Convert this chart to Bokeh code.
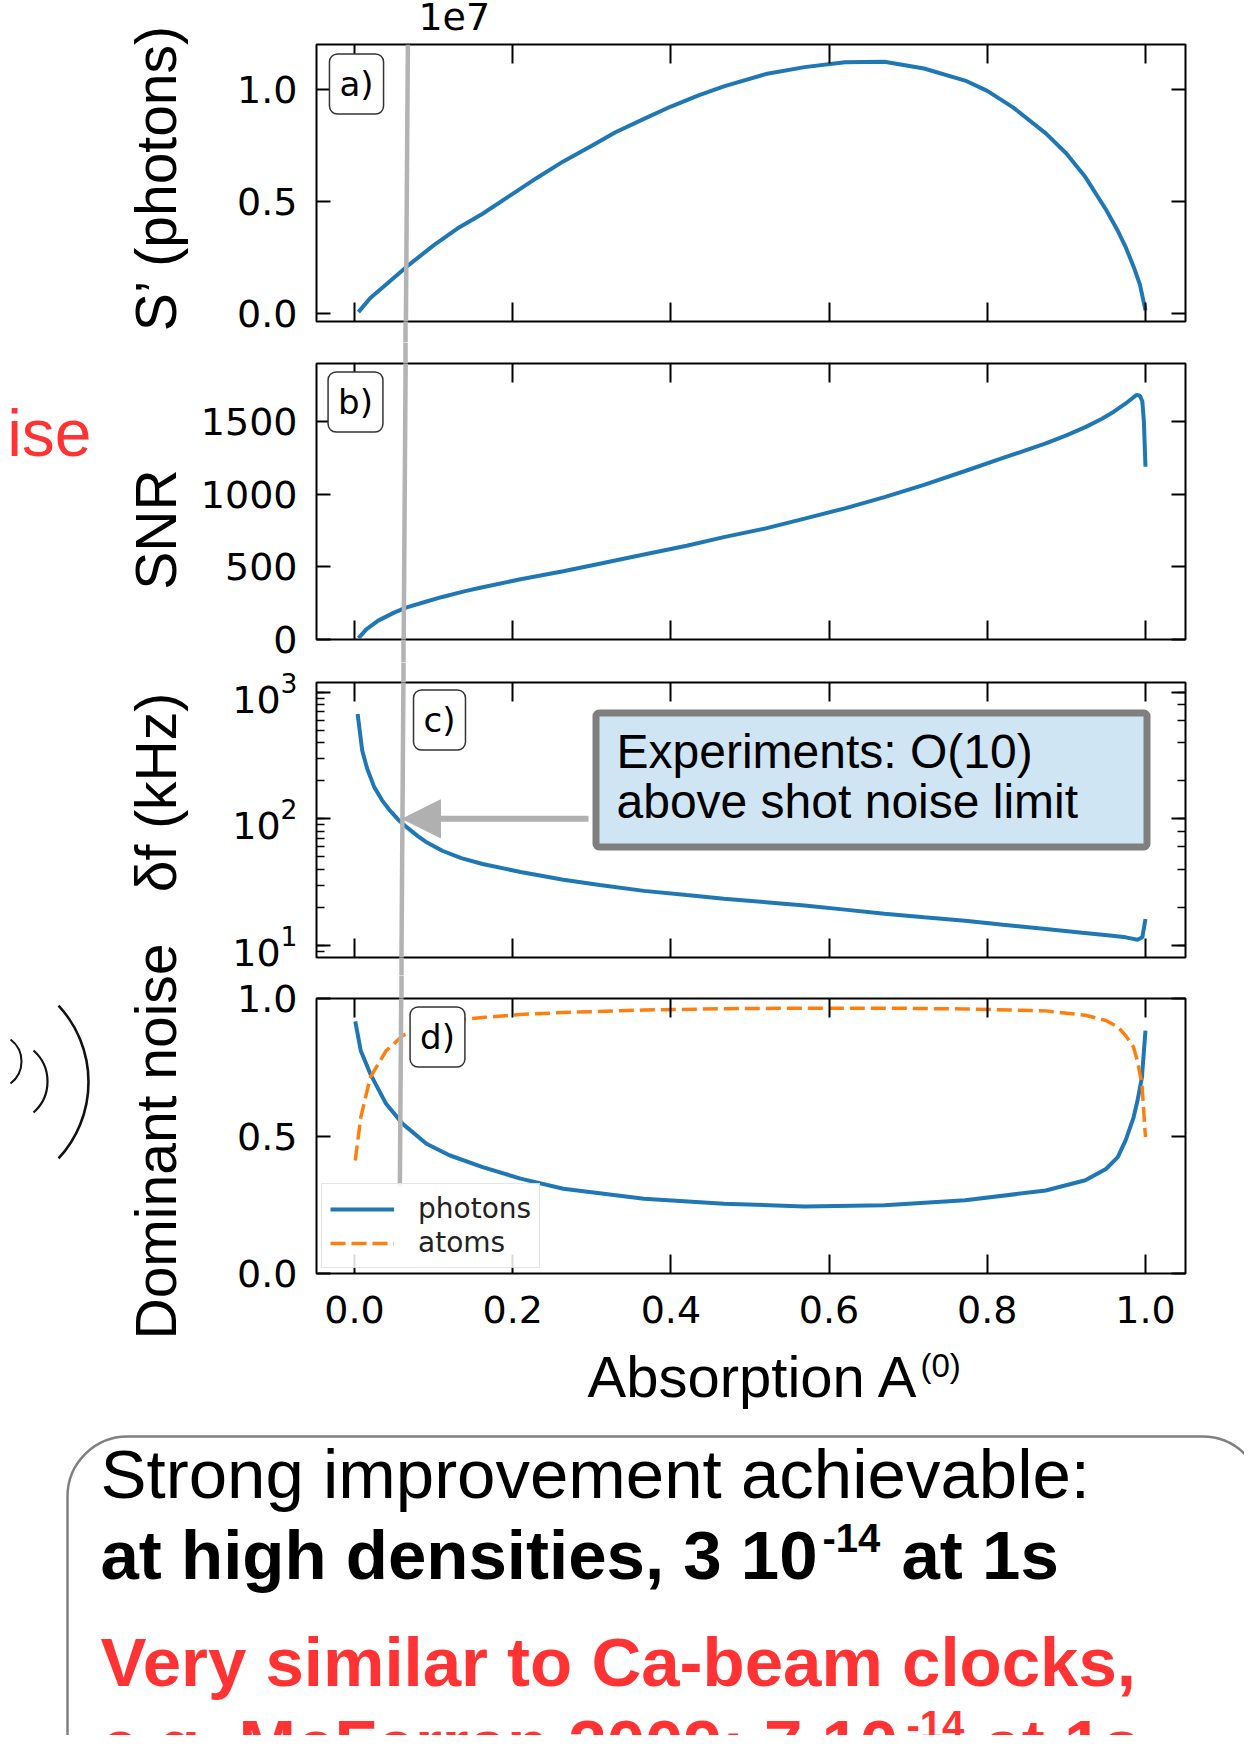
import math
from bokeh.plotting import figure
from bokeh.models import (Range1d, FixedTicker, LinearAxis, LogAxis, Label, Arrow, NormalHead,
                          BoxAnnotation, PrintfTickFormatter, CustomJSTickFormatter, LogTicker)
from bokeh.layouts import column, row
from bokeh.embed import file_html
from bokeh.resources import INLINE

# ---------------- data ----------------
A_S = [0.005, 0.02, 0.04, 0.066, 0.10, 0.13, 0.162, 0.20, 0.23, 0.264, 0.30, 0.33, 0.366, 0.40,
       0.435, 0.467, 0.52, 0.569, 0.62, 0.67, 0.72, 0.772, 0.80, 0.833, 0.874, 0.90, 0.924,
       0.95, 0.965, 0.975, 0.985, 0.993, 1.0]
S_PHOTONS = [0.07e6, 0.70e6, 1.30e6, 2.10e6, 3.05e6, 3.80e6, 4.46e6, 5.35e6, 6.05e6, 6.80e6,
             7.50e6, 8.10e6, 8.70e6, 9.25e6, 9.75e6, 10.15e6, 10.70e6, 11.01e6, 11.23e6,
             11.25e6, 10.95e6, 10.41e6, 9.95e6, 9.20e6, 8.05e6, 7.15e6, 6.10e6, 4.65e6,
             3.70e6, 2.97e6, 2.10e6, 1.30e6, 0.15e6]

A_SNR = [0.005, 0.015, 0.03, 0.05, 0.066, 0.09, 0.111, 0.14, 0.162, 0.21, 0.264, 0.31, 0.366,
         0.42, 0.467, 0.52, 0.569, 0.62, 0.67, 0.72, 0.772, 0.82, 0.874, 0.90, 0.924, 0.945,
         0.96, 0.975, 0.985, 0.989, 0.993, 0.996, 0.998, 1.0]
SNR = [10, 70, 130, 185, 221, 260, 293, 333, 360, 415, 470, 522, 585, 645, 705, 765, 832, 903,
       980, 1065, 1160, 1250, 1350, 1405, 1462, 1520, 1568, 1625, 1668, 1684, 1678, 1640,
       1500, 1189]

A_DF = [0.004, 0.0098, 0.016, 0.025, 0.035, 0.045, 0.055, 0.066, 0.08, 0.09, 0.111, 0.135,
        0.162, 0.21, 0.264, 0.31, 0.366, 0.42, 0.467, 0.52, 0.569, 0.62, 0.67, 0.72, 0.772,
        0.82, 0.874, 0.92, 0.955, 0.975, 0.99, 0.996, 1.0]
DELTA_F = [674, 346, 250, 178, 140, 116, 99, 86, 73, 66, 56, 49, 44, 38, 33, 30, 27, 25, 23.4,
           22, 20.7, 19.2, 17.8, 16.7, 15.7, 14.6, 13.5, 12.6, 12.0, 11.6, 11.1, 11.6, 16.2]

A_DN = [0.001, 0.008, 0.02, 0.04, 0.061, 0.091, 0.12, 0.162, 0.21, 0.264, 0.366, 0.467,
        0.569, 0.67, 0.772, 0.874, 0.924, 0.95, 0.965, 0.975, 0.985, 0.99, 0.9955, 1.0]
PHOTONS = [0.917, 0.81, 0.726, 0.617, 0.544, 0.472, 0.43, 0.387, 0.345, 0.308, 0.272, 0.254,
           0.244, 0.248, 0.266, 0.302, 0.339, 0.38, 0.423, 0.485, 0.568, 0.63, 0.713, 0.883]
ATOMS = [0.411, 0.568, 0.713, 0.81, 0.865, 0.90, 0.92, 0.931, 0.942, 0.949, 0.958, 0.963,
         0.965, 0.965, 0.962, 0.955, 0.939, 0.92, 0.897, 0.865, 0.823, 0.77, 0.689, 0.496]

X_TICKS = [0.0, 0.2, 0.4, 0.6, 0.8, 1.0]
S_TICKS = [0.0, 0.5e7, 1.0e7]
SNR_TICKS = [0, 500, 1000, 1500]
DN_TICKS = [0.0, 0.5, 1.0]
MARKED_A = 0.063   # position of the grey marker line

# ---------------- layout constants (page pixels) ----------------
PAGE_W, PAGE_H = 1244, 1735
FL, FR = 316, 1185
X0, X1 = -0.048, 1.0506
LEFT_X1 = 195
PANEL_W = PAGE_W - LEFT_X1
PANELS = {
    "a": dict(ct=40, cb=342, ft=44, fb=321, y0=-0.035e7, y1=1.202e7, log=False),
    "b": dict(ct=342, cb=662, ft=363, fb=639, y0=0, y1=1900, log=False),
    "c": dict(ct=662, cb=975, ft=682, fb=957, y0=8.04, y1=1193, log=True),
    "d": dict(ct=975, cb=1345, ft=998, fb=1273, y0=0.0, y1=1.0, log=False),
}
BLUE, ORANGE, GREY = "#1f77b4", "#ff7f0e", "#b3b3b3"
TICK_FONT = "DejaVu Sans"
SANS = "Liberation Sans"
MID = 0.36   # cap-centre above baseline, in em
LINE_TOP, LINE_BOT = 44, 1186


def px2x(px):
    return X0 + (px - FL) / (FR - FL) * (X1 - X0)


def py2y(P, py):
    frac = (P["fb"] - py) / (P["fb"] - P["ft"])
    if P["log"]:
        l0, l1 = math.log10(P["y0"]), math.log10(P["y1"])
        return 10 ** (l0 + frac * (l1 - l0))
    return P["y0"] + frac * (P["y1"] - P["y0"])


def gx(py):
    # grey marker line, slightly slanted: page x 407.5 at y=44 to 399.5 at y=1186
    return MARKED_A + 0.0045 - 0.0101 * (py - LINE_TOP) / (LINE_BOT - LINE_TOP)


x_range = Range1d(X0, X1)
EMPTY = "return ''"


def style_axis(ax, tick_in, labels, standoff=0, minor=False):
    ax.axis_line_color = None
    ax.major_tick_in = tick_in
    ax.major_tick_out = 0
    ax.major_tick_line_color = "black"
    ax.major_tick_line_width = 2
    if minor:
        ax.minor_tick_in = 8
        ax.minor_tick_out = 0
        ax.minor_tick_line_color = "black"
        ax.minor_tick_line_width = 1.5
    else:
        ax.minor_tick_line_color = None
    if labels:
        ax.major_label_text_font = TICK_FONT
        ax.major_label_text_font_size = "38px"
        ax.major_label_text_color = "black"
        ax.major_label_standoff = standoff
    else:
        ax.formatter = CustomJSTickFormatter(code=EMPTY)
        ax.major_label_text_font_size = "0px"
        ax.major_label_standoff = 0


def gap_marker(p, side, x, length):
    """Continue the grey marker line through the gap between two panels."""
    ax = LinearAxis(ticker=FixedTicker(ticks=[x]))
    ax.axis_line_color = None
    ax.minor_tick_line_color = None
    ax.major_tick_in = 0
    ax.major_tick_out = length
    ax.major_tick_line_color = GREY
    ax.major_tick_line_width = 4.5
    ax.formatter = CustomJSTickFormatter(code=EMPTY)
    ax.major_label_text_font_size = "0px"
    ax.major_label_standoff = 0
    p.add_layout(ax, side)


def blank_fig(width, height, xr, yr):
    f = figure(width=width, height=height, x_range=Range1d(*xr), y_range=Range1d(*yr),
               output_backend="svg", toolbar_location=None, min_border=0, min_border_left=0,
               min_border_right=0, min_border_top=0, min_border_bottom=0)
    f.axis.visible = False
    f.grid.visible = False
    f.outline_line_color = None
    return f


def make_panel(key, yticks, show_x):
    P = PANELS[key]
    log = P["log"]
    p = figure(width=PANEL_W, height=P["cb"] - P["ct"], x_range=x_range,
               y_range=Range1d(P["y0"], P["y1"]),
               y_axis_type="log" if log else "linear",
               output_backend="svg", toolbar_location=None,
               min_border_left=FL - LEFT_X1, min_border_right=PAGE_W - FR,
               min_border_top=P["ft"] - P["ct"], min_border_bottom=P["cb"] - P["fb"])
    p.outline_line_color = "black"
    p.outline_line_width = 2
    p.grid.visible = False
    xb = p.xaxis[0]
    xb.ticker = FixedTicker(ticks=X_TICKS)
    xb.formatter = PrintfTickFormatter(format="%.1f")
    style_axis(xb, 19, show_x, standoff=22)
    yl = p.yaxis[0]
    if yticks is not None:
        yl.ticker = FixedTicker(ticks=yticks)
    style_axis(yl, 14, True, standoff=19, minor=log)
    xt = LinearAxis(ticker=FixedTicker(ticks=X_TICKS))
    style_axis(xt, 19, False)
    p.add_layout(xt, "above")
    yr = LogAxis(ticker=LogTicker()) if log else LinearAxis(ticker=FixedTicker(ticks=yticks))
    style_axis(yr, 14, False, minor=log)
    p.add_layout(yr, "right")
    top = max(P["ft"], LINE_TOP)
    bot = min(P["fb"], LINE_BOT)
    p.add_layout(Arrow(x_start=gx(top), y_start=py2y(P, top), x_end=gx(bot), y_end=py2y(P, bot),
                       start=None, end=None, line_color=GREY, line_width=4.5))
    if P["ct"] < P["ft"] and P["ct"] > LINE_TOP:
        gap_marker(p, "above", gx((P["ct"] + P["ft"]) / 2), P["ft"] - P["ct"])
    if P["cb"] < LINE_BOT:
        gap_marker(p, "below", gx((P["cb"] + P["fb"]) / 2), P["cb"] - P["fb"])
    return p, P


def panel_label(p, P, text, cx, cy):
    p.add_layout(Label(x=px2x(cx), y=py2y(P, cy), text=text, text_align="center",
                       text_baseline="middle", text_font=TICK_FONT, text_font_size="34px",
                       text_color="black", background_fill_color="white",
                       border_line_color="#333333", border_line_width=1.5,
                       border_radius=8, padding=10))


# ---- strip above panel a (offset text) ----
top_strip = blank_fig(PANEL_W, 40, (LEFT_X1, PAGE_W), (-40, 0))
top_strip.add_layout(Label(x=318, y=-(30 - MID * 38), text="1e7", text_font=TICK_FONT,
                           text_font_size="38px", text_color="black", text_baseline="middle"))

# ---- panel a ----
pa, Pa = make_panel("a", S_TICKS, False)
pa.yaxis[0].formatter = CustomJSTickFormatter(code="return (tick/1e7).toFixed(1)")
pa.line(A_S, S_PHOTONS, color=BLUE, line_width=4)
panel_label(pa, Pa, "a)", 356, 83.5)

# ---- panel b ----
pb, Pb = make_panel("b", SNR_TICKS, False)
pb.line(A_SNR, SNR, color=BLUE, line_width=4)
panel_label(pb, Pb, "b)", 355, 401.5)

# ---- panel c ----
pc, Pc = make_panel("c", None, False)
pc.line(A_DF, DELTA_F, color=BLUE, line_width=4)
panel_label(pc, Pc, "c)", 439, 719.5)
pc.add_layout(BoxAnnotation(left=px2x(595.5), right=px2x(1146.5), top=py2y(Pc, 712.5),
                            bottom=py2y(Pc, 846.5), fill_color="#d0e5f3", fill_alpha=1.0,
                            line_color="#7f7f7f", line_alpha=1.0, line_width=7,
                            border_radius=3))
pc.add_layout(Arrow(x_start=px2x(588), y_start=100, x_end=px2x(402), y_end=100,
                    line_color="#b0b0b0", line_width=6,
                    end=NormalHead(size=38, fill_color="#b0b0b0", line_color="#b0b0b0")))
for txt, base in (("Experiments: O(10)", 768), ("above shot noise limit", 818)):
    pc.add_layout(Label(x=px2x(616), y=py2y(Pc, base - MID * 48), text=txt, text_font=SANS,
                        text_font_size="48px", text_color="black", text_baseline="middle"))

# ---- panel d ----
pd, Pd = make_panel("d", DN_TICKS, True)
pd.yaxis[0].formatter = PrintfTickFormatter(format="%.1f")
pd.line(A_DN, PHOTONS, color=BLUE, line_width=4, legend_label="photons")
pd.line(A_DN, ATOMS, color=ORANGE, line_width=3.5, line_dash="15 6", legend_label="atoms")
panel_label(pd, Pd, "d)", 437, 1036.5)
lg = pd.legend[0]
lg.location = "bottom_left"
lg.margin = 5
lg.padding = 8
lg.spacing = 1
lg.glyph_width = 64
lg.glyph_height = 30
lg.label_height = 30
lg.label_standoff = 24
lg.label_text_font = TICK_FONT
lg.label_text_font_size = "28px"
lg.label_text_color = "#222222"
lg.border_line_color = "#cccccc"
lg.border_line_width = 1.5
lg.background_fill_alpha = 0.85

# ---------------- left strip: axis titles and slide decorations ----------------
left = blank_fig(LEFT_X1, 1345, (0, LEFT_X1), (-1345, 0))
for txt, cy in (("S\u2019 (photons)", 177), ("SNR", 529), ("\u03b4f (kHz)", 792),
                ("Dominant noise", 1141)):
    left.add_layout(Label(x=155, y=-cy, text=txt, angle=math.pi / 2, text_align="center",
                          text_baseline="middle", text_font=SANS, text_font_size="57px",
                          text_color="black"))
left.add_layout(Label(x=91, y=-(456 - MID * 66), text="ise", text_align="right",
                      text_font=SANS, text_font_size="66px", text_color="#ff3333",
                      text_baseline="middle"))
ARC_X = [-24.5, 5.7, -6.5]
ARC_Y = [-1081.5, -1081, -1061]
ARC_R = [112.5, 41.3, 27.5]
ARC_HALF = [42.8, 48.6, 53.0]
left.arc(x=ARC_X, y=ARC_Y, radius=ARC_R,
         start_angle=[-math.radians(h) for h in ARC_HALF],
         end_angle=[math.radians(h) for h in ARC_HALF],
         line_color="#111111", line_width=[2.6, 2.2, 2.0])

# ---------------- bottom: x title and text box ----------------
bottom = blank_fig(PAGE_W, PAGE_H - 1345, (0, PAGE_W), (-PAGE_H, -1345))


def btxt(x, base, text, size=69, bold=False, color="black"):
    bottom.add_layout(Label(x=x, y=-(base - MID * size), text=text, text_font=SANS,
                            text_font_size=f"{size}px",
                            text_font_style="bold" if bold else "normal", text_color=color,
                            text_baseline="middle"))


btxt(587, 1397, "Absorption A", size=58)
btxt(920, 1377, "(0)", size=33)
bottom.add_layout(BoxAnnotation(left=67, right=1262, top=-1436, bottom=-1820, fill_alpha=0,
                                line_color="#808080", line_alpha=1.0, line_width=2.5,
                                border_radius=60))
RED = "#ff3333"
btxt(100, 1499, "Strong improvement achievable:")
btxt(100, 1580, "at high densities, 3 10", bold=True)
btxt(822, 1552, "-14", size=40, bold=True)
btxt(901, 1580, "at 1s", bold=True)
btxt(100, 1687, "Very similar to Ca-beam clocks,", bold=True, color=RED)
btxt(100, 1769, "e.g. McFerran 2009: 7 10", bold=True, color=RED)
btxt(906, 1739, "-14", size=40, bold=True, color=RED)
btxt(983, 1769, "at 1s", bold=True, color=RED)

layout = column(row(left, column(top_strip, pa, pb, pc, pd, spacing=0), spacing=0),
                bottom, spacing=0)
open("out.html", "w").write(file_html(layout, INLINE))
